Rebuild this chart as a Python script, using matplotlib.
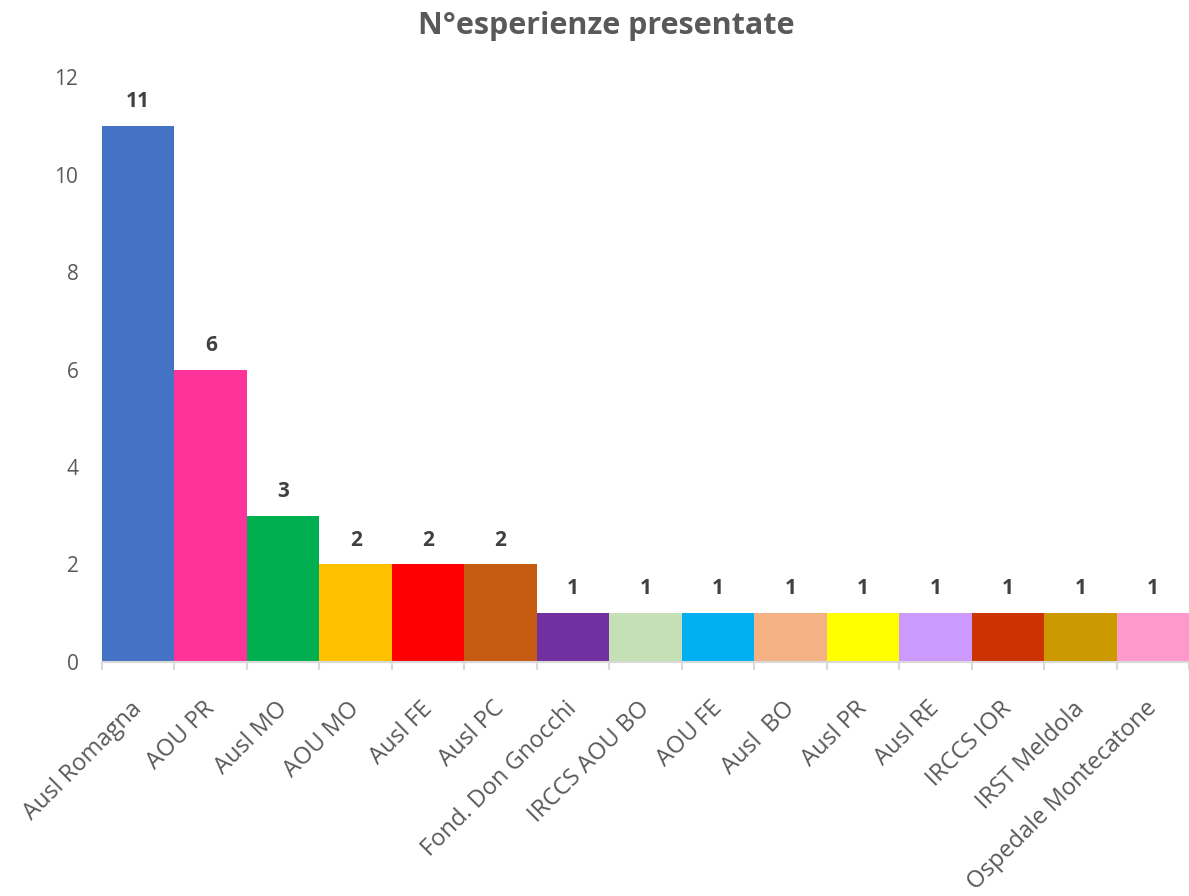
import numpy as np
import matplotlib.pyplot as plt
import matplotlib.transforms as mtransforms

categories = [
    "Ausl Romagna", "AOU PR", "Ausl MO", "AOU MO", "Ausl FE", "Ausl PC",
    "Fond. Don Gnocchi", "IRCCS AOU BO", "AOU FE", "Ausl  BO", "Ausl PR",
    "Ausl RE", "IRCCS IOR", "IRST Meldola", "Ospedale Montecatone",
]
values = [11, 6, 3, 2, 2, 2, 1, 1, 1, 1, 1, 1, 1, 1, 1]
colors = [
    "#4472C4", "#FF3399", "#00B050", "#FFC000", "#FF0000", "#C55A11",
    "#7030A0", "#C5E0B4", "#00B0F0", "#F4B183", "#FFFF00",
    "#CC99FF", "#CC3300", "#CC9900", "#FF99CC",
]
yticks = [0, 2, 4, 6, 8, 10, 12]

plt.rcParams["font.family"] = ["Open Sans", "DejaVu Sans"]

fig = plt.figure(figsize=(11.89, 8.96), dpi=100)
ax = fig.add_axes([0.0858, 0.2612, 0.9142, 0.6528])

x = np.arange(len(categories))
ax.bar(x, values, width=1.0, color=colors)

# value labels above bars
for xi, v in zip(x, values):
    ax.annotate(
        str(v), (xi, v),
        xytext=(0, 10), textcoords="offset points",
        ha="center", va="bottom",
        fontsize=15, fontweight="bold", color="#404040",
    )

ax.set_xlim(-0.5, len(categories) - 0.5)
ax.set_ylim(0, 12)
ax.set_yticks(yticks)
ax.tick_params(axis="y", length=0, pad=17, labelsize=15, labelcolor="#595959")

ax.set_xticks(x)
ax.set_xticklabels(categories, rotation=45, ha="right", rotation_mode="anchor",
                   fontsize=17, color="#595959")
ax.tick_params(axis="x", which="major", length=0, pad=25)
shift = mtransforms.ScaledTranslation(-8 / 100, 0, fig.dpi_scale_trans)
for lbl in ax.get_xticklabels():
    lbl.set_transform(lbl.get_transform() + shift)
ax.set_xticks(np.arange(-0.5, len(categories)), minor=True)
ax.tick_params(axis="x", which="minor", length=6, color="#D9D9D9", width=1.5)

for side in ["left", "right", "top"]:
    ax.spines[side].set_visible(False)
ax.spines["bottom"].set_color("#D9D9D9")
ax.spines["bottom"].set_linewidth(1.5)

fig.text(0.51, 0.971, "N°esperienze presentate", ha="center", va="center",
         fontsize=22, fontweight="bold", color="#595959")

fig.savefig("out.png", dpi=100)
